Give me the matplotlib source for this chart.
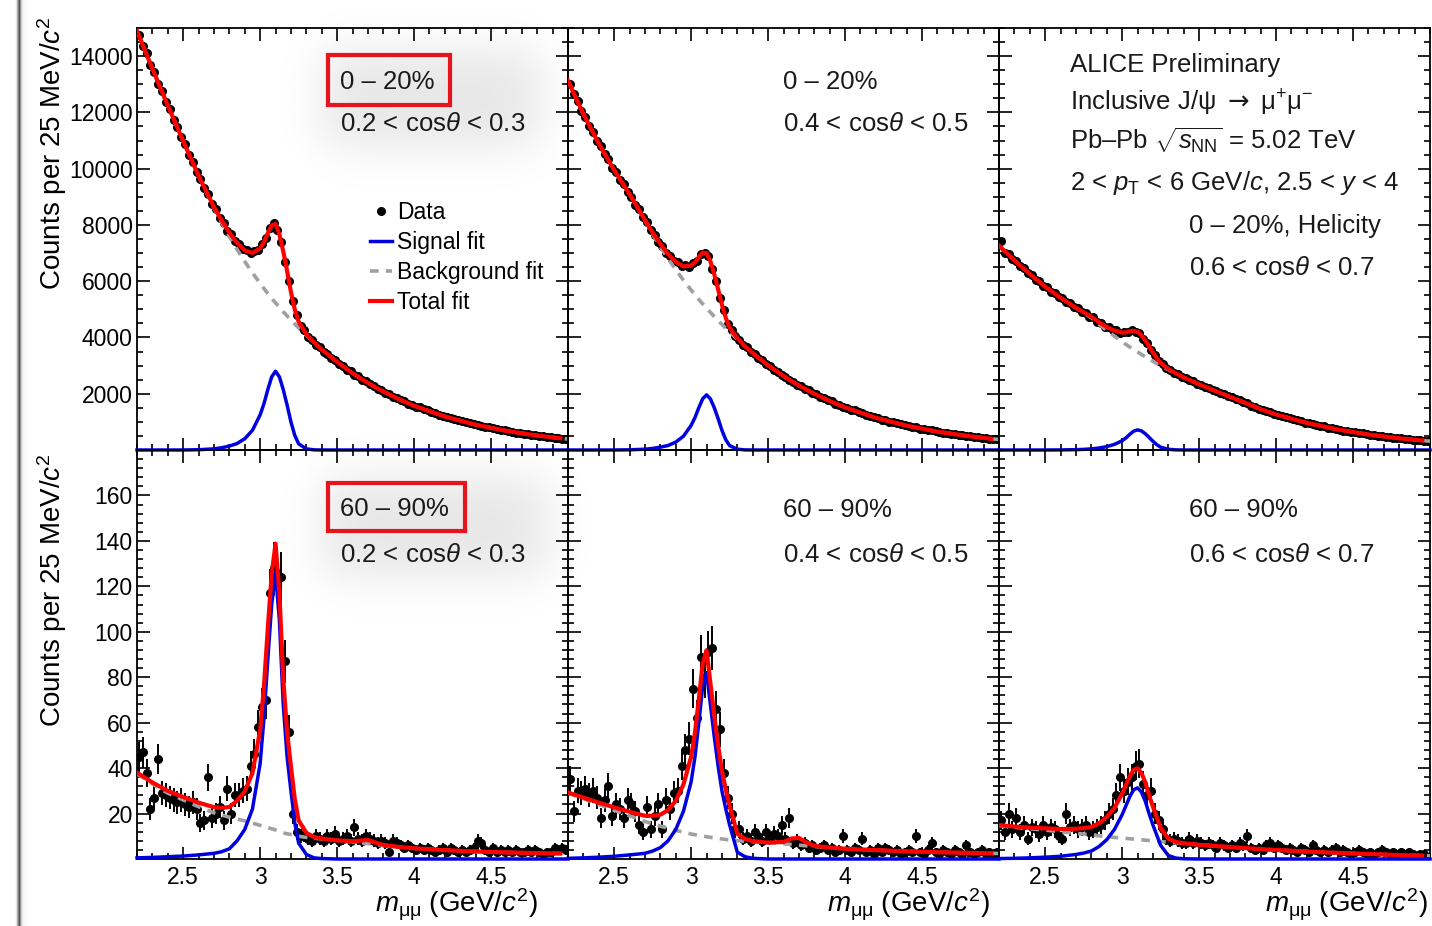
import matplotlib
matplotlib.use("Agg")
import matplotlib.pyplot as plt
from matplotlib.lines import Line2D
from matplotlib.patches import Rectangle
from matplotlib.ticker import FixedLocator, MultipleLocator, FuncFormatter
import numpy as np

plt.rcParams["font.family"] = ["Liberation Sans", "DejaVu Sans"]
plt.rcParams["mathtext.fontset"] = "custom"
plt.rcParams["mathtext.rm"] = "Liberation Sans"
plt.rcParams["mathtext.it"] = "Liberation Sans:italic"
plt.rcParams["mathtext.bf"] = "Liberation Sans:bold"
plt.rcParams["mathtext.sf"] = "DejaVu Sans"

W, H = 1432, 926

# dimuon invariant mass, centres of the 25 MeV bins (GeV/c^2)
mass = [
    2.2125, 2.2375, 2.2625, 2.2875, 2.3125, 2.3375, 2.3625, 2.3875,
    2.4125, 2.4375, 2.4625, 2.4875, 2.5125, 2.5375, 2.5625, 2.5875,
    2.6125, 2.6375, 2.6625, 2.6875, 2.7125, 2.7375, 2.7625, 2.7875,
    2.8125, 2.8375, 2.8625, 2.8875, 2.9125, 2.9375, 2.9625, 2.9875,
    3.0125, 3.0375, 3.0625, 3.0875, 3.1125, 3.1375, 3.1625, 3.1875,
    3.2125, 3.2375, 3.2625, 3.2875, 3.3125, 3.3375, 3.3625, 3.3875,
    3.4125, 3.4375, 3.4625, 3.4875, 3.5125, 3.5375, 3.5625, 3.5875,
    3.6125, 3.6375, 3.6625, 3.6875, 3.7125, 3.7375, 3.7625, 3.7875,
    3.8125, 3.8375, 3.8625, 3.8875, 3.9125, 3.9375, 3.9625, 3.9875,
    4.0125, 4.0375, 4.0625, 4.0875, 4.1125, 4.1375, 4.1625, 4.1875,
    4.2125, 4.2375, 4.2625, 4.2875, 4.3125, 4.3375, 4.3625, 4.3875,
    4.4125, 4.4375, 4.4625, 4.4875, 4.5125, 4.5375, 4.5625, 4.5875,
    4.6125, 4.6375, 4.6625, 4.6875, 4.7125, 4.7375, 4.7625, 4.7875,
    4.8125, 4.8375, 4.8625, 4.8875, 4.9125, 4.9375, 4.9625, 4.9875,
]

# counts per bin, 0-20% centrality
c020_cos23 = [
    14760, 14350, 14100, 13700, 13420, 13020, 12770, 12380,
    12120, 11740, 11490, 11110, 10860, 10490, 10240, 9870,
    9640, 9300, 9090, 8750, 8550, 8250, 8080, 7800,
    7660, 7420, 7320, 7140, 7100, 6990, 7060, 7100,
    7310, 7520, 7880, 8060, 7820, 7400, 6680, 6020,
    5280, 4810, 4420, 4260, 4020, 3920, 3740, 3660,
    3500, 3430, 3280, 3210, 3060, 3000, 2860, 2800,
    2670, 2620, 2490, 2440, 2330, 2280, 2170, 2130,
    2030, 1990, 1895, 1855, 1765, 1735, 1645, 1615,
    1535, 1515, 1440, 1420, 1345, 1320, 1250, 1225,
    1160, 1145, 1088, 1072, 1015, 1000, 942, 927,
    875, 868, 820, 812, 766, 757, 712, 702,
    662, 656, 620, 614, 580, 572, 538, 530,
    497, 493, 465, 461, 432, 428, 402, 400,
]
c020_cos45 = [
    13010, 12650, 12420, 12060, 11840, 11510, 11310, 10990,
    10800, 10510, 10330, 10040, 9870, 9590, 9440, 9170,
    9010, 8720, 8550, 8270, 8090, 7810, 7650, 7400,
    7260, 7020, 6910, 6730, 6670, 6540, 6560, 6520,
    6640, 6730, 6960, 6990, 6880, 6450, 6010, 5410,
    4960, 4490, 4280, 4050, 3920, 3730, 3650, 3480,
    3400, 3260, 3190, 3045, 2975, 2850, 2785, 2660,
    2600, 2485, 2430, 2320, 2270, 2165, 2120, 2020,
    1982, 1890, 1852, 1760, 1725, 1642, 1610, 1530,
    1502, 1432, 1410, 1340, 1317, 1248, 1224, 1156,
    1138, 1082, 1067, 1012, 997, 942, 926, 873,
    860, 816, 806, 764, 753, 711, 700, 659,
    650, 616, 609, 577, 569, 537, 529, 498,
    491, 465, 459, 434, 427, 403, 397, 376,
]
c020_cos67 = [
    7420, 7020, 6960, 6780, 6710, 6530, 6460, 6290,
    6230, 6060, 6000, 5830, 5780, 5630, 5580, 5430,
    5390, 5250, 5210, 5070, 5040, 4910, 4880, 4740,
    4710, 4560, 4520, 4380, 4360, 4250, 4250, 4170,
    4200, 4180, 4250, 4200, 4170, 3960, 3810, 3550,
    3380, 3160, 3060, 2910, 2855, 2740, 2695, 2600,
    2565, 2475, 2440, 2352, 2320, 2238, 2205, 2125,
    2094, 2015, 1984, 1906, 1874, 1797, 1765, 1690,
    1658, 1580, 1546, 1468, 1436, 1370, 1342, 1277,
    1251, 1198, 1176, 1124, 1101, 1049, 1026, 975,
    955, 912, 897, 854, 838, 795, 778, 738,
    722, 690, 678, 645, 633, 601, 589, 557,
    546, 521, 512, 487, 478, 455, 444, 421,
    412, 393, 386, 367, 359, 340, 334, 317,
]

# counts per bin, 60-90% centrality
c6090_cos23 = [
    45, 47, 38, 22, 27, 44, 29, 28,
    27, 26, 25, 26, 24, 23, 25, 22,
    16, 17, 36, 18, 20, 23, 17, 31,
    20, 28, 28, 30, 31, 41, 46, 58,
    67, 70, 117, 128, 126, 124, 87, 56,
    20, 12, 10, 11, 9, 8, 10, 9,
    8, 10, 9, 11, 8, 9, 10, 8,
    14, 9, 8, 10, 9, 8, 7, 8,
    7, 3, 8, 7, 6, 5, 6, 5,
    4, 5, 4, 5, 4, 3, 4, 5,
    3, 5, 4, 3, 4, 3, 4, 5,
    8, 7, 4, 3, 5, 3, 4, 3,
    4, 3, 4, 3, 3, 4, 3, 4,
    3, 2, 3, 3, 5, 4, 5, 4,
]
c6090_cos45 = [
    35, 21, 30, 29, 31, 28, 30, 27,
    18, 26, 32, 19, 24, 22, 18, 26,
    24, 21, 15, 12, 23, 13, 19, 24,
    13, 26, 22, 29, 30, 41, 48, 53,
    75, 62, 89, 80, 91, 93, 66, 57,
    38, 27, 20, 13, 13, 9, 10, 8,
    12, 10, 8, 12, 9, 11, 10, 15,
    9, 18, 7, 8, 6, 7, 5, 6,
    4, 5, 6, 4, 5, 3, 4, 10,
    4, 3, 5, 4, 9, 3, 4, 2,
    5, 3, 5, 4, 3, 4, 2, 3,
    4, 3, 10, 3, 2, 4, 7, 3,
    2, 4, 3, 2, 4, 3, 2, 6,
    3, 2, 3, 4, 2, 3, 2, 3,
]
c6090_cos67 = [
    17, 12, 20, 13, 18, 12, 15, 9,
    14, 13, 11, 15, 12, 14, 13, 10,
    9, 20, 14, 15, 13, 14, 15, 12,
    13, 14, 15, 17, 20, 22, 28, 36,
    30, 34, 36, 41, 42, 33, 28, 30,
    20, 17, 13, 9, 8, 9, 8, 7,
    7, 9, 7, 8, 7, 6, 7, 6,
    5, 7, 6, 5, 6, 5, 7, 6,
    10, 5, 4, 5, 4, 6, 7, 5,
    6, 5, 4, 5, 4, 3, 5, 4,
    3, 6, 4, 3, 4, 3, 4, 5,
    3, 4, 3, 2, 3, 4, 3, 2,
    3, 2, 3, 4, 3, 2, 3, 2,
    3, 2, 3, 2, 1, 2, 2, 1,
]

# fit curves sampled on a mass grid (denser around the J/psi)
fit_mass = [
    2.20, 2.30, 2.40, 2.50, 2.60, 2.70, 2.75, 2.80, 2.85, 2.90, 2.95,
    3.00, 3.025, 3.05, 3.075, 3.10, 3.125, 3.15, 3.175, 3.20, 3.225, 3.25,
    3.30, 3.35, 3.40, 3.50, 3.60, 3.65, 3.70, 3.75, 3.80,
    3.90, 4.00, 4.20, 4.40, 4.60, 4.80, 4.95, 5.00,
]

bkg_020_cos23 = [
    14900, 13550, 12250, 10980, 9740, 8600, 8080, 7590, 7130, 6700, 6300,
    5920, 5740, 5560, 5390, 5230, 5070, 4915, 4765, 4620, 4480, 4340,
    4080, 3820, 3575, 3130, 2730, 2553, 2385, 2228, 2080,
    1808, 1572, 1188, 898, 679, 513, 416, 388,
]
sig_020_cos23 = [
    0, 0, 0, 0, 10, 40, 80, 140, 230, 400, 700,
    1250, 1650, 2150, 2600, 2800, 2600, 2150, 1600, 1000, 520, 220,
    40, 5, 0, 0, 0, 0, 0, 0, 0,
    0, 0, 0, 0, 0, 0, 0, 0,
]
bkg_020_cos45 = [
    13130, 11940, 10890, 9950, 9090, 8150, 7670, 7225, 6800, 6410, 6035,
    5685, 5515, 5350, 5195, 5040, 4890, 4745, 4600, 4465, 4330, 4195,
    3945, 3685, 3440, 3010, 2630, 2455, 2295, 2140, 2000,
    1740, 1513, 1144, 864, 653, 494, 400, 373,
]
sig_020_cos45 = [
    0, 0, 0, 0, 7, 28, 56, 100, 160, 280, 490,
    875, 1155, 1505, 1820, 1960, 1820, 1505, 1120, 700, 365, 155,
    28, 4, 0, 0, 0, 0, 0, 0, 0,
    0, 0, 0, 0, 0, 0, 0, 0,
]
bkg_020_cos67 = [
    7260, 6740, 6255, 5805, 5410, 5045, 4870, 4700, 4470, 4250, 4045,
    3845, 3750, 3660, 3570, 3485, 3400, 3315, 3235, 3155, 3075, 3000,
    2855, 2715, 2580, 2335, 2110, 2000, 1890, 1780, 1675,
    1450, 1262, 963, 728, 550, 416, 337, 314,
]
sig_020_cos67 = [
    0, 0, 0, 0, 3, 12, 22, 40, 70, 120, 200,
    330, 430, 560, 670, 715, 680, 580, 450, 310, 190, 100,
    25, 5, 0, 0, 0, 0, 0, 0, 0,
    0, 0, 0, 0, 0, 0, 0, 0,
]

bkg_6090_cos23 = [
    37.5, 33, 29, 26, 23, 20.3, 19.3, 18.4, 17.6, 16.8, 15.8,
    14.8, 14.3, 13.8, 13.3, 12.8, 12.2, 11.5, 11.1, 10.8, 10.4, 10.0,
    9.5, 9.2, 8.8, 8.2, 7.5, 7.1, 6.8, 6.4, 6.0,
    5.3, 4.7, 3.9, 3.3, 2.9, 2.6, 2.4, 2.3,
]
sig_6090_cos23 = [
    0.5, 0.7, 1.0, 1.3, 1.8, 2.5, 3.2, 4.5, 8, 13, 22,
    42, 62, 88, 112, 126, 105, 68, 45, 30, 16, 7,
    2, 0.5, 0.2, 0, 0, 0, 0, 0, 0,
    0, 0, 0, 0, 0, 0, 0, 0,
]
psi2s_6090_cos23 = [
    0, 0, 0, 0, 0, 0, 0, 0, 0, 0, 0,
    0, 0, 0, 0, 0, 0, 0, 0, 0, 0, 0,
    0, 0, 0, 0, 0.3, 1.0, 1.6, 0.8, 0.2,
    0, 0, 0, 0, 0, 0, 0, 0,
]
bkg_6090_cos45 = [
    29, 26.5, 24, 21.5, 19, 16.5, 15.5, 14.5, 13.5, 12.6, 11.8,
    11.0, 10.7, 10.4, 10.1, 9.8, 9.55, 9.3, 9.05, 8.8, 8.6, 8.4,
    8.1, 7.8, 7.6, 7.2, 6.7, 6.4, 6.1, 5.8, 5.5,
    5.0, 4.5, 3.9, 3.4, 3.0, 2.7, 2.5, 2.4,
]
sig_6090_cos45 = [
    0.3, 0.5, 0.8, 1.2, 1.8, 2.5, 3.5, 5, 8, 13, 21,
    34, 45, 60, 76, 82, 68, 54, 41, 30, 22, 15,
    3, 1, 0.3, 0, 0, 0, 0, 0, 0,
    0, 0, 0, 0, 0, 0, 0, 0,
]
psi2s_6090_cos45 = [
    0, 0, 0, 0, 0, 0, 0, 0, 0, 0, 0,
    0, 0, 0, 0, 0, 0, 0, 0, 0, 0, 0,
    0, 0, 0, 0, 0.8, 2.6, 3.2, 1.4, 0.3,
    0, 0, 0, 0, 0, 0, 0, 0,
]
bkg_6090_cos67 = [
    14.7, 14.0, 13.3, 12.7, 12.0, 11.3, 11.0, 10.6, 10.2, 9.9, 9.5,
    9.2, 9.05, 8.9, 8.75, 8.6, 8.45, 8.3, 8.15, 8.0, 7.85, 7.7,
    7.4, 7.1, 6.8, 6.25, 5.75, 5.5, 5.25, 5.0, 4.8,
    4.35, 3.95, 3.3, 2.7, 2.2, 1.75, 1.5, 1.4,
]
sig_6090_cos67 = [
    0.2, 0.3, 0.5, 0.8, 1.2, 2, 2.6, 3.5, 5.5, 8.5, 13,
    19.5, 23.5, 27.5, 30.5, 31.3, 29.5, 25.5, 20, 15, 10.5, 6,
    1.5, 0.4, 0.1, 0, 0, 0, 0, 0, 0,
    0, 0, 0, 0, 0, 0, 0, 0,
]

x_ticks = [2.5, 3.0, 3.5, 4.0, 4.5]
top_yticks = [2000, 4000, 6000, 8000, 10000, 12000, 14000]
bottom_yticks = [20, 40, 60, 80, 100, 120, 140, 160]

# (row, col, counts, background, J/psi signal, psi(2S) signal)
panels = [
    (0, 0, c020_cos23, bkg_020_cos23, sig_020_cos23, None),
    (0, 1, c020_cos45, bkg_020_cos45, sig_020_cos45, None),
    (0, 2, c020_cos67, bkg_020_cos67, sig_020_cos67, None),
    (1, 0, c6090_cos23, bkg_6090_cos23, sig_6090_cos23, psi2s_6090_cos23),
    (1, 1, c6090_cos45, bkg_6090_cos45, sig_6090_cos45, psi2s_6090_cos45),
    (1, 2, c6090_cos67, bkg_6090_cos67, sig_6090_cos67, None),
]

RED = "#ff0000"
BLUE = "#0000e0"
GREY = "#a0a0a0"
DASH = (0, (2.4, 2.0))


def fx(px):
    return px / W


def fy(py):
    return 1 - py / H


fig = plt.figure(figsize=(W / 100, H / 100), dpi=100)

# background layer: soft grey glow behind the highlighted labels + page edge shadow
bg = fig.add_axes([0, 0, 1, 1], zorder=0)
bg.set_xlim(0, W)
bg.set_ylim(H, 0)
bg.axis("off")
yy, xx = np.mgrid[0:H, 0:W].astype(float)


def soft_box(x0, y0, x1, y1, s):
    gx = 1 / (1 + np.exp(-(xx - x0) / s)) / (1 + np.exp((xx - x1) / s))
    gy = 1 / (1 + np.exp(-(yy - y0) / s)) / (1 + np.exp((yy - y1) / s))
    return gx * gy


alpha = 0.10 * soft_box(322, 50, 540, 145, 14) + 0.10 * soft_box(322, 478, 548, 575, 14)
alpha += 0.55 * np.exp(-((xx - 18.5) / 2.0) ** 2)
alpha += 0.18 * np.exp(-np.clip(xx - 18.5, 0, None) / 3.0) * (xx > 18.5)
rgba = np.zeros((H, W, 4))
rgba[..., 3] = np.clip(alpha, 0, 1)
bg.imshow(rgba, extent=(0, W, H, 0), aspect="auto", interpolation="bilinear")

# red highlight boxes
for (x0, y0, x1, y1) in [(328, 55, 450, 105), (328, 483, 465, 531)]:
    bg.add_patch(Rectangle((x0, y0), x1 - x0, y1 - y0, fill=False,
                           edgecolor="#e8141b", linewidth=3.0))

col_left = [137, 568, 999]
panel_w = 431
row_top = [28, 450]
row_bottom = [450, 859]

fit_m = np.array(fit_mass)
axes = {}
for row, col, counts, bkg, sig, psi2s in panels:
    ax = fig.add_axes([fx(col_left[col]), fy(row_bottom[row]),
                       panel_w / W, (row_bottom[row] - row_top[row]) / H], zorder=1)
    ax.patch.set_alpha(0)
    axes[(row, col)] = ax

    y = np.array(counts, dtype=float)
    ax.errorbar(mass, y, yerr=np.sqrt(y), fmt="o", ms=5.5, color="black",
                elinewidth=1.4, capsize=0, zorder=2)

    total = np.array(bkg, dtype=float) + np.array(sig, dtype=float)
    if psi2s is not None:
        total = total + np.array(psi2s, dtype=float)

    ax.plot(fit_m, bkg, color=GREY, lw=2.6, ls=DASH, zorder=3)
    ax.plot(fit_m, sig, color=BLUE, lw=2.5, zorder=4, clip_on=False)
    ax.plot(fit_m[:-1], total[:-1], color=RED, lw=3.0, zorder=5)

    ax.set_xlim(2.2, 5.0)
    if row == 0:
        ax.set_ylim(0, 15000)
        ax.yaxis.set_major_locator(FixedLocator(top_yticks))
        ax.yaxis.set_minor_locator(MultipleLocator(500))
    else:
        ax.set_ylim(0, 180)
        ax.yaxis.set_major_locator(FixedLocator(bottom_yticks))
        ax.yaxis.set_minor_locator(MultipleLocator(4))
    ax.xaxis.set_major_locator(FixedLocator(x_ticks))
    ax.xaxis.set_minor_locator(MultipleLocator(0.1))
    ax.xaxis.set_major_formatter(FuncFormatter(lambda v, p: f"{v:g}"))
    ax.yaxis.set_major_formatter(FuncFormatter(lambda v, p: f"{v:g}"))

    ax.tick_params(which="both", direction="in", top=True, right=True,
                   width=1.2, colors="black", labelsize=16.5)
    ax.tick_params(which="major", length=9)
    ax.tick_params(which="minor", length=4.5)
    ax.tick_params(axis="x", pad=5, labelbottom=(row == 1))
    ax.tick_params(axis="y", pad=3, labelleft=(col == 0))
    for sp in ax.spines.values():
        sp.set_linewidth(1.3)

# legend in the first panel
handles = [
    Line2D([], [], marker="o", ls="none", ms=5.5, color="black"),
    Line2D([], [], color=BLUE, lw=2.5),
    Line2D([], [], color=GREY, lw=2.6, ls=DASH),
    Line2D([], [], color=RED, lw=3.0),
]
axes[(0, 0)].legend(handles, ["Data", "Signal fit", "Background fit", "Total fit"],
                    loc="upper left", bbox_to_anchor=(0.541, 0.590),
                    frameon=False, fontsize=16.5, handlelength=0.95,
                    handletextpad=0.22, labelspacing=0.30, borderpad=0,
                    borderaxespad=0)

TS = 18.5
cos_23 = r"0.2 < cos$\theta$ < 0.3"
cos_45 = r"0.4 < cos$\theta$ < 0.5"
cos_67 = r"0.6 < cos$\theta$ < 0.7"
labels = [
    (340, 82, "0 – 20%"), (340, 124, cos_23),
    (783, 82, "0 – 20%"), (783, 124, cos_45),
    (1070, 65, "ALICE Preliminary"),
    (1070, 103, r"Inclusive J/ψ $\mathsf{\rightarrow}$ μ$^{+}$μ$^{-}$"),
    (1070, 141, r"Pb–Pb $\sqrt{s_{\mathrm{NN}}}$ = 5.02 TeV"),
    (1070, 183, r"2 < $p_{\mathrm{T}}$ < 6 GeV/$c$, 2.5 < $y$ < 4"),
    (1189, 226, "0 – 20%, Helicity"), (1189, 268, cos_67),
    (340, 509, "60 – 90%"), (340, 555, cos_23),
    (783, 510, "60 – 90%"), (783, 555, cos_45),
    (1189, 510, "60 – 90%"), (1189, 555, cos_67),
]
for px, py, s in labels:
    fig.text(fx(px), fy(py), s, fontsize=TS, ha="left", va="center", color="#1a1a1a")

ylab = r"Counts per 25 MeV/$c^{2}$"
fig.text(fx(52), fy(16), ylab, rotation=90, ha="center", va="top", fontsize=20)
fig.text(fx(52), fy(453), ylab, rotation=90, ha="center", va="top", fontsize=20)

xlab = r"$m_{\mathrm{μμ}}$ (GeV/$c^{2}$)"
for right in [538, 990, 1428]:
    fig.text(fx(right), fy(905), xlab, ha="right", va="center", fontsize=20)

fig.savefig("out.png", dpi=100)
